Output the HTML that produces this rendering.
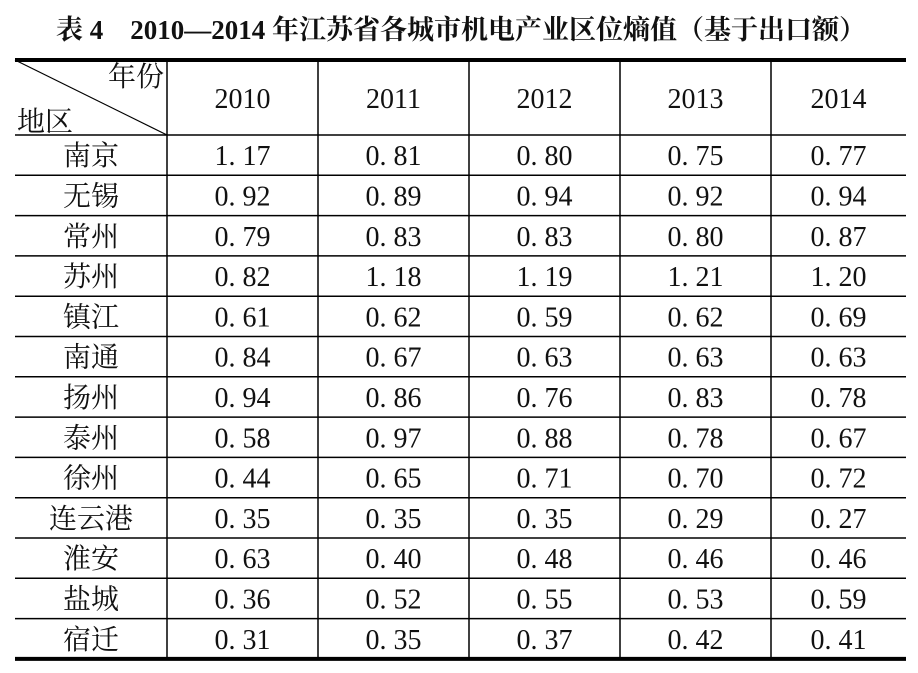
<!DOCTYPE html>
<html><head><meta charset="utf-8"><style>
html,body{margin:0;padding:0;background:#fff;width:918px;height:673px;overflow:hidden}
svg text{font-family:"Liberation Serif","Noto Serif CJK SC",serif;fill:#111}
</style></head><body>
<svg width="918" height="673">
<text x="461" y="39" text-anchor="middle" font-size="27" font-weight="bold">表 4　2010—2014 年江苏省各城市机电产业区位熵值（基于出口额）</text>
<g id="g"></g>
</svg>
<script>
const years=["2010","2011","2012","2013","2014"];
const regions=["南京","无锡","常州","苏州","镇江","南通","扬州","泰州","徐州","连云港","淮安","盐城","宿迁"];
const v2010=["1. 17","0. 92","0. 79","0. 82","0. 61","0. 84","0. 94","0. 58","0. 44","0. 35","0. 63","0. 36","0. 31"];
const v2011=["0. 81","0. 89","0. 83","1. 18","0. 62","0. 67","0. 86","0. 97","0. 65","0. 35","0. 40","0. 52","0. 35"];
const v2012=["0. 80","0. 94","0. 83","1. 19","0. 59","0. 63","0. 76","0. 88","0. 71","0. 35","0. 48","0. 55","0. 37"];
const v2013=["0. 75","0. 92","0. 80","1. 21","0. 62","0. 63","0. 83","0. 78","0. 70","0. 29","0. 46","0. 53","0. 42"];
const v2014=["0. 77","0. 94","0. 87","1. 20","0. 69","0. 63","0. 78","0. 67","0. 72","0. 27","0. 46","0. 59","0. 41"];
const cols=[v2010,v2011,v2012,v2013,v2014];
const NS="http://www.w3.org/2000/svg",g=document.getElementById('g');
const L=15,R=906,TOP=60,HB=135,RH=40.3;
const xs=[15,167,318,469,620,771,906];
function ln(x1,y1,x2,y2,w,name){const e=document.createElementNS(NS,'line');e.setAttribute('x1',x1);e.setAttribute('y1',y1);e.setAttribute('x2',x2);e.setAttribute('y2',y2);e.setAttribute('stroke','#000');e.setAttribute('stroke-width',w);


g.appendChild(e);}
function tx(x,y,s,name,anchor){const e=document.createElementNS(NS,'text');e.setAttribute('x',x);e.setAttribute('y',y);e.setAttribute('font-size','28');e.setAttribute('text-anchor',anchor||'middle');e.textContent=s;


g.appendChild(e);}
const bottom=HB+regions.length*RH;
ln(L,TOP,R,TOP,4,'top-rule');
ln(L,HB,R,HB,1.5,'header-rule');
for(let i=1;i<regions.length;i++)ln(L,HB+i*RH,R,HB+i*RH,1.5,'row-rule');
ln(L,bottom,R,bottom,4,'bottom-rule');
for(let j=1;j<xs.length-1;j++)ln(xs[j],TOP,xs[j],bottom,1.5,'column-rule');
ln(L,TOP,xs[1],HB,1.2,'diagonal-header-line');
tx(164,86,'年份','header-year-label','end');
tx(17,131,'地区','header-region-label','start');
years.forEach((y,j)=>tx((xs[j+1]+xs[j+2])/2,108,y,'year-header-'+y));
regions.forEach((r,i)=>{const cy=HB+i*RH+RH/2+10;
tx((xs[0]+xs[1])/2,cy,r,'region-label');
cols.forEach((c,j)=>tx((xs[j+1]+xs[j+2])/2,cy,c[i],'cell-value'));});
</script>
</body></html>
